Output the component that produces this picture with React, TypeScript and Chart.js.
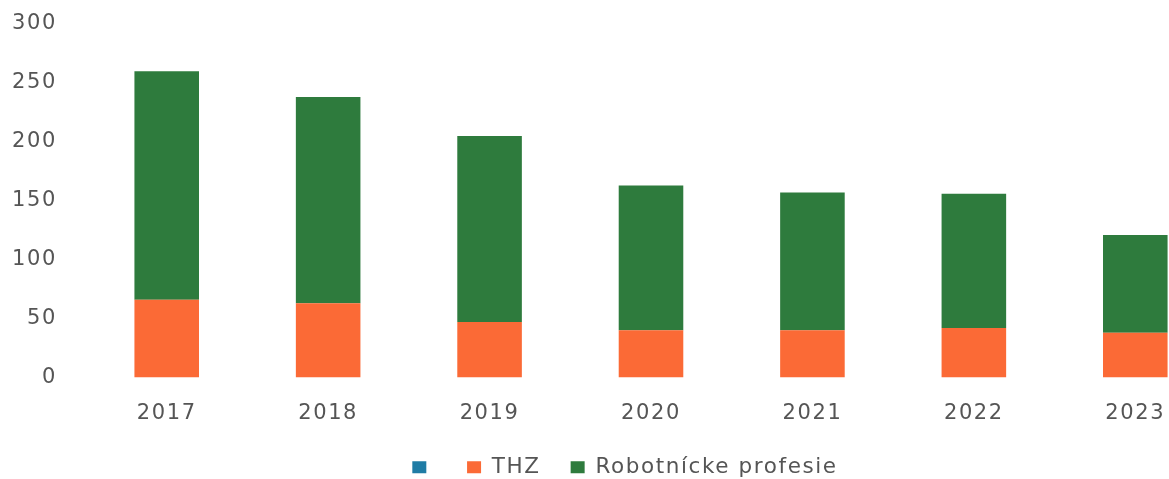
import React, { useEffect, useRef } from "react";
import { Chart, registerables } from "chart.js";

Chart.register(...registerables);

const years = ["2017", "2018", "2019", "2020", "2021", "2022", "2023"];
const blueValues = [0, 0, 0, 0, 0, 0, 0];
const thzValues = [66, 63, 47, 40, 40, 42, 38];
const robotValues = [194, 175, 158, 123, 117, 114, 83];
const yTicks = [0, 50, 100, 150, 200, 250, 300];

const seriesNames = ["", "THZ", "Robotnícke profesie"];
const colors = ["#1f7ca5", "#fb6a36", "#2e7b3d"];

const TEXT = "#555555";
const FONT = "'DejaVu Sans', sans-serif";

const spacingPlugin = {
  id: "letterSpacing",
  beforeUpdate(chart: any) {
    (chart.ctx as any).letterSpacing = "1.6px";
  },
  beforeLayout(chart: any) {
    (chart.ctx as any).letterSpacing = "1.6px";
  },
  afterLayout(chart: any) {
    if (chart.legend) chart.legend.left = 34;
  },
  beforeDraw(chart: any) {
    (chart.ctx as any).letterSpacing = "1.6px";
  },
};

export default function App() {
  const ref = useRef<HTMLCanvasElement | null>(null);

  useEffect(() => {
    if (!ref.current) return;
    const chart = new Chart(ref.current, {
      type: "bar",
      data: {
        labels: years,
        datasets: [
          { label: seriesNames[0], data: blueValues, backgroundColor: colors[0], borderWidth: 0 },
          { label: seriesNames[1], data: thzValues, backgroundColor: colors[1], borderWidth: 0 },
          { label: seriesNames[2], data: robotValues, backgroundColor: colors[2], borderWidth: 0 },
        ],
      },
      plugins: [spacingPlugin],
      options: {
        animation: false,
        responsive: true,
        maintainAspectRatio: false,
        layout: { padding: { left: 0, right: 34, top: 24, bottom: 0 } },
        datasets: { bar: { categoryPercentage: 1, barPercentage: 0.4 } },
        plugins: {
          tooltip: { enabled: false },
          legend: {
            position: "bottom",
            labels: {
              boxWidth: 14,
              boxHeight: 12,
              padding: 30,
              color: TEXT,
              font: { family: FONT, size: 21.5 },
            },
          },
        },
        scales: {
          x: {
            stacked: true,
            grid: { display: false, drawTicks: false },
            border: { display: false },
            ticks: { color: TEXT, padding: 23, font: { family: FONT, size: 21 } },
            afterFit: (s: any) => {
              s.height = 49;
            },
          },
          y: {
            stacked: true,
            min: 0,
            max: 300,
            grid: { display: false, drawTicks: false },
            border: { display: false },
            afterBuildTicks: (s: any) => {
              s.ticks = yTicks.map((v) => ({ value: v }));
            },
            ticks: { color: TEXT, padding: 29, font: { family: FONT, size: 21 } },
            afterFit: (s: any) => {
              s.width = 86;
              s.paddingTop = 0;
              s.paddingBottom = 0;
            },
          },
        },
      },
    });
    return () => chart.destroy();
  }, []);

  return (
    <div
      style={{
        position: "fixed",
        left: 0,
        top: 0,
        width: 1169,
        height: 479,
        overflow: "hidden",
        background: "#ffffff",
      }}
    >
      <div style={{ position: "relative", width: 1250, height: 488 }}>
        <canvas ref={ref} />
      </div>
    </div>
  );
}
